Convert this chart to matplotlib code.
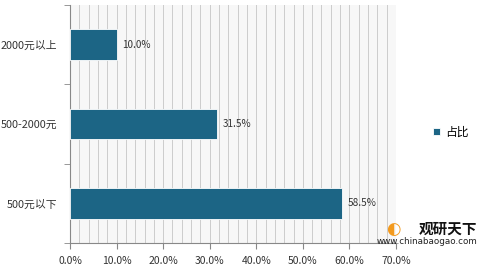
import numpy as np
import matplotlib.pyplot as plt
from matplotlib.ticker import MultipleLocator, FuncFormatter

plt.rcParams['font.family'] = ['Noto Sans CJK SC', 'DejaVu Sans']

categories = ['500元以下', '500-2000元', '2000元以上']
values = [58.5, 31.5, 10.0]
series_name = '占比'
bar_color = '#1c6585'

fig = plt.figure(figsize=(4.86, 2.69), dpi=100)
ax = fig.add_axes([70 / 486, 1 - 243 / 269, 326 / 486, 238 / 269])
ax.set_facecolor('#f7f7f7')

y = np.arange(len(categories))
bars = ax.barh(y, values, height=0.39, color=bar_color, label=series_name,
               edgecolor='white', linewidth=0.6, zorder=3)
for yi, v in zip(y, values):
    ax.text(v + 1.2, yi, '%.1f%%' % v, va='center', ha='left', fontsize=7.2,
            color='#333333', zorder=4)

ax.set_xlim(0, 70)
ax.set_ylim(-0.5, 2.5)
ax.xaxis.set_major_locator(MultipleLocator(10))
ax.xaxis.set_minor_locator(MultipleLocator(2))
ax.xaxis.set_major_formatter(FuncFormatter(lambda x, p: '%.1f%%' % x))
ax.grid(axis='x', which='both', color='#cccccc', linewidth=0.7, zorder=0)

ax.set_yticks(y)
ax.set_yticklabels(categories)
ax.set_yticks([-0.5, 0.5, 1.5, 2.5], minor=True)
ax.tick_params(axis='y', which='major', length=0, labelsize=7.8, pad=9, colors='#333333')
ax.tick_params(axis='y', which='minor', length=4, color='#888888')
ax.tick_params(axis='x', which='major', length=4, color='#888888', labelsize=7.5,
               colors='#333333', pad=5)
ax.tick_params(axis='x', which='minor', length=0)
for s in ['top', 'right']:
    ax.spines[s].set_visible(False)
for s in ['left', 'bottom']:
    ax.spines[s].set_color('#888888')
    ax.spines[s].set_linewidth(0.8)

fig.legend(handles=[bars], labels=[series_name], loc='center left',
           bbox_to_anchor=(422 / 486, 1 - 132 / 269), frameon=False,
           fontsize=8.5, handlelength=0.6, handleheight=0.6, handletextpad=0.5)

# watermark
fig.text(448 / 486, 1 - 229 / 269, '观研天下', fontsize=10.5, fontweight='bold',
         ha='center', va='center', color='#111111')
fig.text(427 / 486, 1 - 242 / 269, 'www.chinabaogao.com', fontsize=6.3,
         ha='center', va='center', color='#222222', family=['DejaVu Sans'])
fig.text(393 / 486, 1 - 229 / 269, '◐', fontsize=12, ha='center', va='center',
         color='#f39a1e', family=['DejaVu Sans'])

fig.savefig('out.png', dpi=100)
